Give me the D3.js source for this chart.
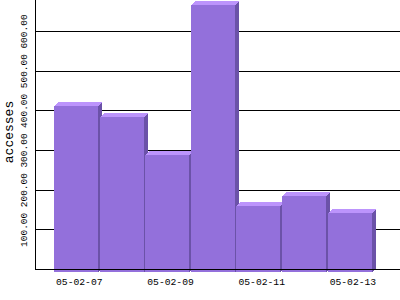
<!DOCTYPE html>
<html>
<head>
<meta charset="utf-8">
<script src="https://cdn.jsdelivr.net/npm/d3@7"></script>
<style>
html,body{margin:0;padding:0;background:#fff;}
svg{display:block;}
text{font-family:"Liberation Mono",monospace;fill:#000;}
</style>
</head>
<body>
<svg id="chart" width="400" height="300"></svg>
<script>
const categories = ["05-02-07","05-02-08","05-02-09","05-02-10","05-02-11","05-02-12","05-02-13"];
const accesses = [412, 384, 288, 666, 160, 185, 141];
const tickValuesY = [100, 200, 300, 400, 500, 600];
const tickLabelsX = ["05-02-07","05-02-09","05-02-11","05-02-13"];
const yTitle = "accesses";

const svg = d3.select("#chart");
const axisX = 35, baseY = 269, depth = 4;
const FONT = '"Liberation Mono",monospace';

const x = d3.scaleBand().domain(categories).range([54, 373.2]).paddingInner(0).paddingOuter(0);
const y = d3.scaleLinear().domain([0, 600]).range([baseY, 31]);

const colFront = "#9370db", colTop = "#bc94fc", colSide = "#6b52a8";

// gridlines
svg.append("g").selectAll("line").data(tickValuesY).join("line")
  .attr("x1", axisX).attr("x2", 400)
  .attr("y1", d => Math.round(y(d)) + 0.5).attr("y2", d => Math.round(y(d)) + 0.5)
  .attr("stroke", "#000").attr("stroke-width", 1);

// bars
const bw = x.bandwidth() - 1.6;
const bars = svg.append("g");
categories.forEach((c, i) => {
  const x0 = Math.round(x(c)), x1 = Math.round(x(c) + bw);
  const yt = Math.round(y(accesses[i])), yb = baseY + 3;
  const g = bars.append("g");
  g.append("polygon")
    .attr("points", `${x1},${yt} ${x1+depth},${yt-depth} ${x1+depth},${yb-depth} ${x1},${yb}`)
    .attr("fill", colSide).attr("shape-rendering","crispEdges");
  g.append("polygon")
    .attr("points", `${x0},${yt} ${x0+depth},${yt-depth} ${x1+depth},${yt-depth} ${x1},${yt}`)
    .attr("fill", colTop).attr("shape-rendering","crispEdges");
  g.append("rect")
    .attr("x", x0).attr("y", yt).attr("width", x1 - x0).attr("height", yb - yt)
    .attr("fill", colFront).attr("shape-rendering","crispEdges");
});

// x axis
const xAxis = d3.axisBottom(x).tickValues(tickLabelsX).tickSize(0).tickPadding(9);
const gx = svg.append("g").attr("transform", `translate(2.5,${baseY})`).call(xAxis);
gx.select(".domain").remove();
gx.selectAll("text").style("font-family", FONT).style("font-size", "9.7px");

svg.append("line").attr("x1", axisX).attr("x2", 400).attr("y1", baseY + 0.5).attr("y2", baseY + 0.5)
  .attr("stroke", "#000");

// y axis
const yAxis = d3.axisLeft(y).tickValues(tickValuesY).tickFormat(d3.format(".2f")).tickSize(0);
const gy = svg.append("g").attr("transform", `translate(${axisX},0)`).call(yAxis);
gy.select(".domain").remove();
gy.selectAll("text")
  .attr("x", 0).attr("dy", null).attr("y", 0)
  .attr("text-anchor", "middle")
  .attr("transform", "translate(-8,0) rotate(-90)")
  .style("font-family", FONT).style("font-size", "9.5px");

svg.append("line").attr("x1", axisX + 0.5).attr("x2", axisX + 0.5).attr("y1", 0).attr("y2", baseY + 1)
  .attr("stroke", "#000");

// y title
svg.append("text").attr("transform", `translate(13,132) rotate(-90)`)
  .attr("text-anchor", "middle").style("font-family", FONT).style("font-size", "13px").text(yTitle);
</script>
</body>
</html>
